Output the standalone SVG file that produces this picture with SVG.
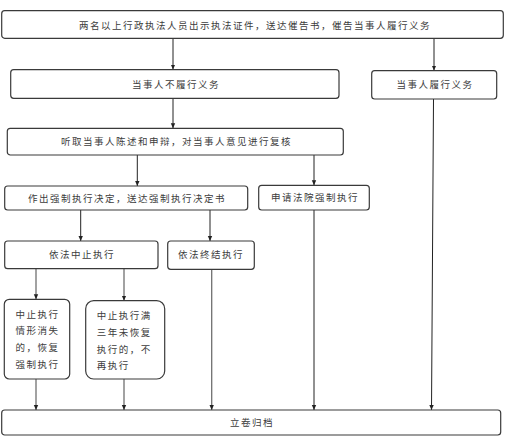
<svg xmlns="http://www.w3.org/2000/svg" width="507" height="444" viewBox="0 0 507 444">
<style>
.box{fill:#fff;stroke:#3a3a3a;stroke-width:1.2}
.t{font-family:"Noto Sans CJK SC","Noto Sans",sans-serif;font-size:9.5px;letter-spacing:1.5px;fill:#3c3c3c}
.m{text-anchor:middle}
.c{fill:none;stroke:#222;stroke-width:1}
.g{fill:none;stroke:#707070;stroke-width:1.3}
</style>
<defs>
<marker id="ah" markerWidth="6" markerHeight="6" refX="5" refY="3" orient="auto" markerUnits="userSpaceOnUse">
<path d="M0,0.8 L5,3 L0,5.2 Z" fill="#222"/>
</marker>
</defs>
<rect width="507" height="444" fill="#fff"/>
<g id="connectors">
<line class="c" x1="173" y1="38.5" x2="173" y2="69.5" marker-end="url(#ah)"/>
<line class="c" x1="434" y1="38.5" x2="434" y2="70.5" marker-end="url(#ah)"/>
<line class="c" x1="173" y1="98.5" x2="173" y2="128.3" marker-end="url(#ah)"/>
<line class="c" x1="137.3" y1="155" x2="137.3" y2="186" marker-end="url(#ah)"/>
<line class="c" x1="314" y1="155" x2="314" y2="185.3" marker-end="url(#ah)"/>
<line class="c" x1="80.7" y1="210" x2="80.7" y2="241" marker-end="url(#ah)"/>
<line class="c" x1="210" y1="210" x2="210" y2="241" marker-end="url(#ah)"/>
<line class="g" x1="36" y1="268.7" x2="36" y2="299.3" marker-end="url(#ah)"/>
<line class="g" x1="124" y1="268.7" x2="124" y2="300.7" marker-end="url(#ah)"/>
<line class="g" x1="36" y1="379" x2="36" y2="410" marker-end="url(#ah)"/>
<line class="g" x1="124" y1="379" x2="124" y2="410" marker-end="url(#ah)"/>
<line class="g" x1="211.7" y1="269.3" x2="211.7" y2="410" marker-end="url(#ah)"/>
<line class="c" x1="314" y1="210" x2="314" y2="410" marker-end="url(#ah)"/>
<line class="c" x1="433.5" y1="99" x2="431.5" y2="410" marker-end="url(#ah)"/>
</g>
<g id="n1"><rect class="box" x="1.7" y="10.7" width="501.6" height="27.6" rx="3"/>
<text class="t m" x="255" y="28.5">两名以上行政执法人员出示执法证件，送达催告书，催告当事人履行义务</text></g>
<g id="n2"><rect class="box" x="10.7" y="69.7" width="328.3" height="28.6" rx="3"/>
<text class="t m" x="176" y="87.5">当事人不履行义务</text></g>
<g id="n3"><rect class="box" x="371.7" y="70.7" width="125" height="28.3" rx="3"/>
<text class="t m" x="435" y="88">当事人履行义务</text></g>
<g id="n4"><rect class="box" x="7.3" y="128.3" width="336" height="26.7" rx="3"/>
<text class="t m" x="176.5" y="145.2">听取当事人陈述和申辩，对当事人意见进行复核</text></g>
<g id="n5"><rect class="box" x="4.7" y="186" width="243" height="24" rx="3"/>
<text class="t m" x="127" y="201.5">作出强制执行决定，送达强制执行决定书</text></g>
<g id="n6"><rect class="box" x="258.7" y="185.3" width="110.6" height="24.7" rx="3"/>
<text class="t m" x="315" y="201.3">申请法院强制执行</text></g>
<g id="n7"><rect class="box" x="4.7" y="241" width="153.3" height="27.7" rx="3"/>
<text class="t m" x="82" y="257.5">依法中止执行</text></g>
<g id="n8"><rect class="box" x="167.7" y="241" width="86.6" height="28.3" rx="3"/>
<text class="t m" x="211" y="258.3">依法终结执行</text></g>
<g id="n9"><rect class="box" x="4.3" y="299.3" width="65.4" height="79.7" rx="5"/>
<text class="t" x="15.5" y="317.8">中止执行</text>
<text class="t" x="15.5" y="334.2">情形消失</text>
<text class="t" x="15.5" y="350.8">的，恢复</text>
<text class="t" x="15.5" y="367.5">强制执行</text></g>
<g id="n10"><rect class="box" x="85.7" y="300.7" width="79" height="78.3" rx="8"/>
<text class="t" x="96.8" y="318.8" letter-spacing="2">中止执行满</text>
<text class="t" x="96.8" y="336.2" letter-spacing="2">三年未恢复</text>
<text class="t" x="96.8" y="352.8" letter-spacing="2">执行的，不</text>
<text class="t" x="96.8" y="368.8" letter-spacing="2">再执行</text></g>
<g id="n11"><rect class="box" x="1.7" y="410" width="499" height="25" rx="3"/>
<text class="t m" x="252" y="426.2">立卷归档</text></g>
</svg>
